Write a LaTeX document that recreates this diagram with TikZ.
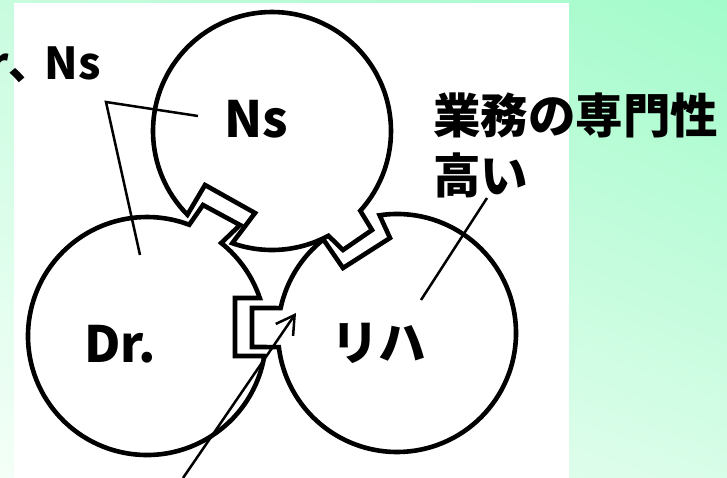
\documentclass[tikz,border=0pt]{standalone}
\usepackage{fontspec}
\newfontfamily\jp{Noto Sans CJK JP}
\usetikzlibrary{arrows.meta,calc,shadings}
\definecolor{gUL}{HTML}{C8FCDF}
\definecolor{gUR}{HTML}{A2FBCA}
\definecolor{gLL}{HTML}{F4FFF8}
\definecolor{gLR}{HTML}{D8FDE8}
\begin{document}
\begin{tikzpicture}[x=1pt,y=-1pt,
  gearline/.style={line width=4.6pt, line join=miter},
  leader/.style={line width=2.5pt},
  lbl/.style={font=\jp\bfseries\fontsize{44}{52}\selectfont, inner sep=0pt},
  jlbl/.style={font=\jp\bfseries\fontsize{47.5}{56}\selectfont, inner sep=0pt},
  clbl/.style={font=\jp\bfseries\fontsize{50}{58}\selectfont, inner sep=0pt}]
\useasboundingbox (0,0) rectangle (727,478);
\shade[upper left=gUL, upper right=gUR, lower left=gLL, lower right=gLR] (0,0) rectangle (727,478);
\fill[white] (14,3) rectangle (569,478);

% circle centres
\coordinate (cN) at (272,131);
\coordinate (cD) at (147,336);
\coordinate (cR) at (397,333);

% Ns circle: notch (lower left) and tooth (lower right)
\draw[gearline] ($(cN)+(42.1:119)$) arc[start angle=42.1, end angle=-224.7, radius=119]
  -- (205,185) -- (255,213) -- ($(cN)+(109.5:119)$)
  arc[start angle=109.5, end angle=61.7, radius=119]
  -- (343,250) -- (372,230) -- cycle;

% Dr circle: tooth (upper right) and notch (right)
\draw[gearline] ($(cD)+(9.7:119)$) arc[start angle=9.7, end angle=290.8, radius=119]
  -- (203,205) -- (240,225) -- ($(cD)+(-51.4:119)$)
  arc[start angle=-51.4, end angle=-18.6, radius=119]
  -- (235,298) -- (235,356) -- cycle;

% Riha circle: notch (upper left) and tooth (left)
\draw[gearline] ($(cR)+(-98.4:119)$) arc[start angle=-98.4, end angle=173.2, radius=119]
  -- (252,347) -- (252,308) -- ($(cR)+(192.1:119)$)
  arc[start angle=192.1, end angle=231.8, radius=119]
  -- (343,268) -- (390,238) -- cycle;

% labels
\node[clbl, anchor=base] (tNs) at (256,138) {Ns};
\node[clbl, anchor=base west] (tDr) at (84,362) {Dr.};
\node[jlbl, anchor=base west] (tRh) at (331,360) {リハ};
\node[lbl, anchor=base east] (lDN) at (101,80) {Dr、\kern-8pt Ns};
\node[jlbl, anchor=base west] (lGS) at (433,134) {業務の専門性};
\node[jlbl, anchor=base west] (lTK) at (433,194) {高い};

% leader lines
\coordinate (v1) at (106,102);
\coordinate (e1) at (198,116);
\coordinate (e2) at (140,255);
\draw[leader] (e1) -- (v1) -- (e2);
\coordinate (e3) at (487,198);
\coordinate (e4) at (421,300);
\draw[leader] (e3) -- (e4);
\coordinate (a0) at (183,478);
\coordinate (a1) at (296,313);
\draw[leader, -{Straight Barb[length=18pt, width=21pt]}] (a0) -- (a1);
\end{tikzpicture}
\end{document}
